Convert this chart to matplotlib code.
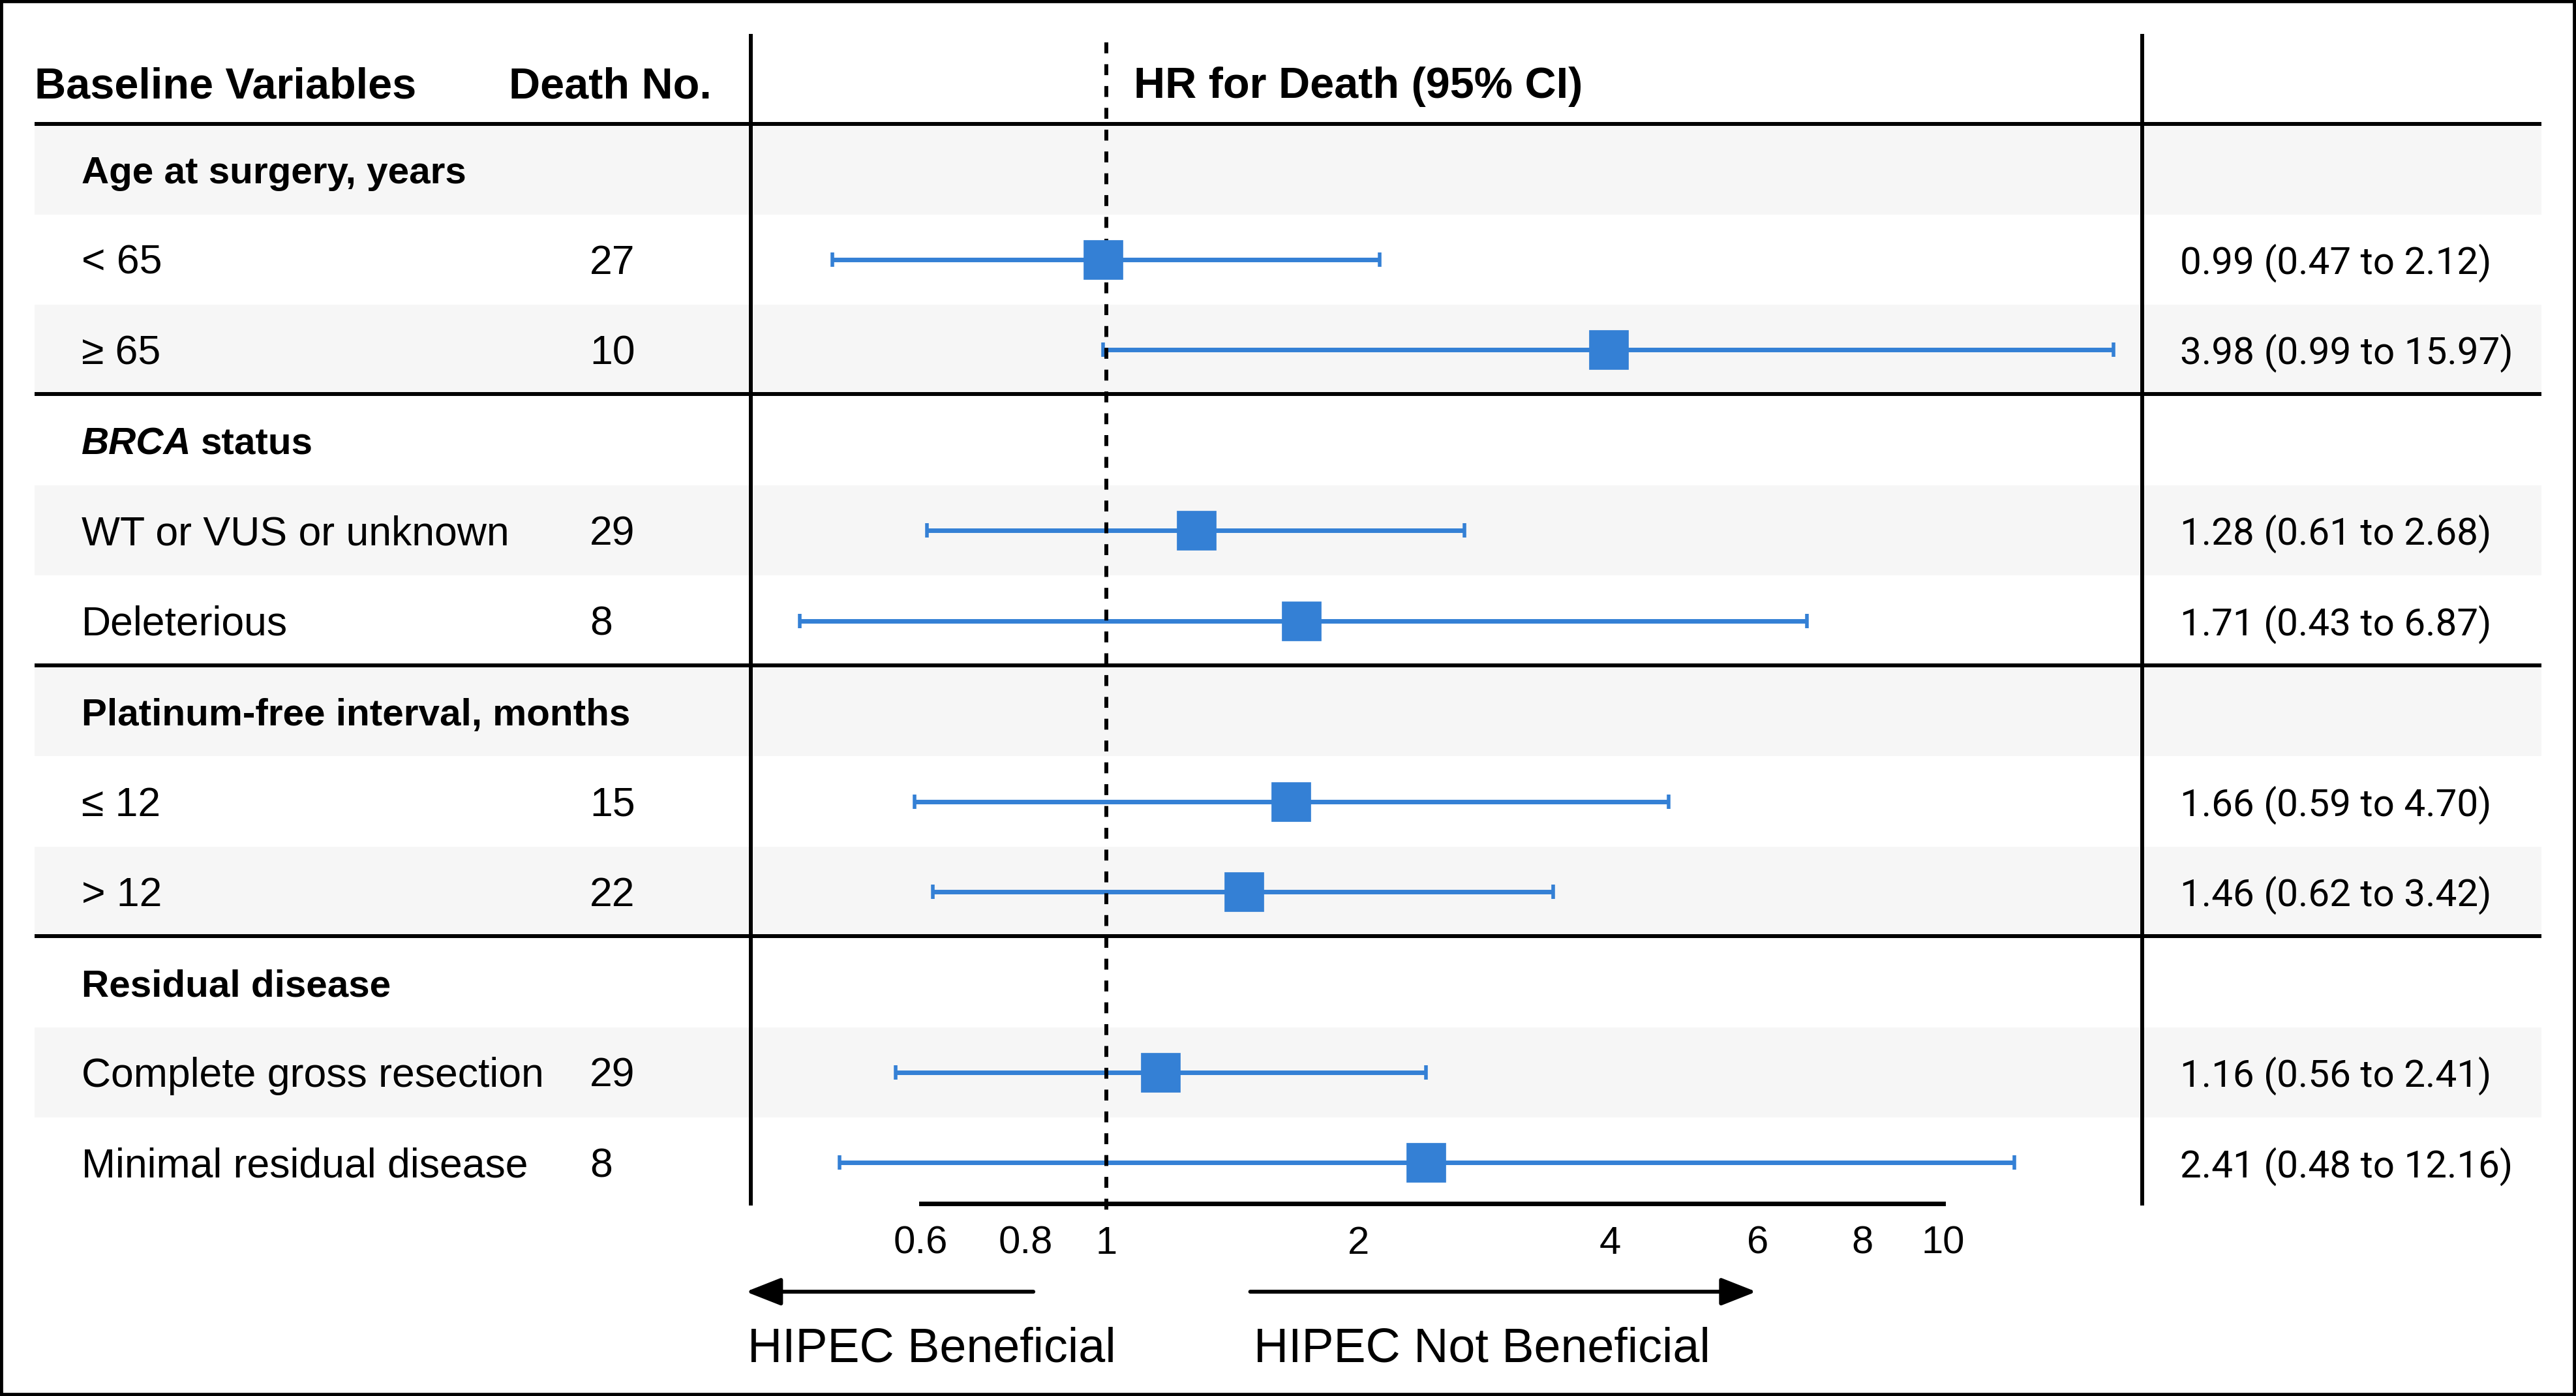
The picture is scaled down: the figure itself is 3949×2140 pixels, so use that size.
import numpy as np
import matplotlib
matplotlib.use('Agg')
import matplotlib.pyplot as plt
from matplotlib.patches import Rectangle
from matplotlib.ticker import NullLocator, FixedLocator, FixedFormatter

plt.rcParams['font.family'] = ['Liberation Sans', 'DejaVu Sans']

# data
group_names = ['Age at surgery, years', 'BRCA', 'Platinum-free interval, months',
               'Residual disease']
subgroups = ['< 65', '\u2265 65', 'WT or VUS or unknown', 'Deleterious',
             '\u2264 12', '> 12', 'Complete gross resection',
             'Minimal residual disease']
deaths = [27, 10, 29, 8, 15, 22, 29, 8]
hr = [0.99, 3.98, 1.28, 1.71, 1.66, 1.46, 1.16, 2.41]
ci_low = [0.47, 0.99, 0.61, 0.43, 0.59, 0.62, 0.56, 0.48]
ci_high = [2.12, 15.97, 2.68, 6.87, 4.70, 3.42, 2.41, 12.16]
xticks = [0.6, 0.8, 1, 2, 4, 6, 8, 10]
xtick_labels = ['0.6', '0.8', '1', '2', '4', '6', '8', '10']

blue = '#3480d5'
shade = '#f6f6f6'

# layout, in units of a 1568 x 850 canvas
W, H = 1568.0, 850.0
row_top = 75.5
row_h = 55.0
n_rows = 12
row_y = row_top + row_h / 2 + row_h * np.arange(n_rows)
left_vline, right_vline = 457.0, 1304.0
x_one, decade = 673.5, 509.4      # where HR = 1 sits and width of one decade

fig = plt.figure(figsize=(39.49, 21.40), dpi=100)
bg = fig.add_axes([0, 0, 1, 1])
bg.set_xlim(0, W)
bg.set_ylim(H, 0)
bg.axis('off')

# alternating row shading
shaded = np.arange(0, n_rows, 2)
bg.barh(row_y[shaded], width=1547 - 21, left=21, height=row_h, color=shade,
        zorder=0)

# table rules
bg.hlines([75.5, 240, 405, 570], 21, 1547, color='black', lw=4.3, zorder=2)
bg.vlines([left_vline, right_vline], 20.6, 734, color='black', lw=4.3, zorder=2)

# header
bg.text(21, 59.6, 'Baseline Variables', fontsize=48, fontweight='bold',
        ha='left', va='baseline')
bg.text(433, 59.6, 'Death No.', fontsize=48, fontweight='bold',
        ha='right', va='baseline')
bg.text(690, 59.6, 'HR for Death (95% CI)', fontsize=48, fontweight='bold',
        ha='left', va='baseline')

off = 8.7
for g, name in enumerate(group_names):
    r = 3 * g
    if name == 'BRCA':
        t1 = bg.text(49.5, row_y[r] + off, 'BRCA', fontsize=42,
                     fontweight='bold', fontstyle='italic', ha='left',
                     va='baseline')
        bg.annotate('status', xy=(1, 0), xycoords=t1, xytext=(11, 0),
                    textcoords='offset points', fontsize=42,
                    fontweight='bold', ha='left', va='bottom')
    else:
        bg.text(49.5, row_y[r] + off, name, fontsize=42, fontweight='bold',
                ha='left', va='baseline')

for k in range(len(subgroups)):
    r = 3 * (k // 2) + 1 + k % 2
    bg.text(49.5, row_y[r] + off, subgroups[k], fontsize=45,
            ha='left', va='baseline')
    bg.text(359, row_y[r] + off, str(deaths[k]), fontsize=45,
            ha='left', va='baseline')
    bg.text(1327, row_y[r] + off,
            '{:.2f} ({:.2f} to {:.2f})'.format(hr[k], ci_low[k], ci_high[k]),
            fontsize=42, family=['Roboto', 'Liberation Sans'],
            ha='left', va='baseline')

# forest panel
ax = fig.add_axes([left_vline / W, 1 - 750 / H, (right_vline - left_vline) / W,
                   730 / H])
ax.set_facecolor('none')
ax.set_xscale('log')
ax.set_xlim(10 ** ((left_vline - x_one) / decade),
            10 ** ((right_vline - x_one) / decade))
ax.set_ylim(750, 20)

rows_sub = np.array([3 * (k // 2) + 1 + k % 2 for k in range(len(hr))])
ys = row_y[rows_sub]
hr_a = np.array(hr)
err = [hr_a - np.array(ci_low), np.array(ci_high) - hr_a]
ax.errorbar(hr_a, ys, xerr=err, fmt='none', ecolor=blue, elinewidth=5,
            capsize=8, capthick=4, zorder=2)
ax.vlines(1, 26, 740, color='black', lw=4.3, linestyles=(0, (2.8, 2.8)),
          zorder=3)
ax.plot(hr_a, ys, linestyle='none', marker='s', markersize=43, color=blue,
        markeredgecolor=blue, markeredgewidth=0.5, zorder=4)

for s in ['top', 'left', 'right']:
    ax.spines[s].set_visible(False)
ax.spines['bottom'].set_position(('data', 733))
ax.spines['bottom'].set_bounds(0.6, 10)
ax.spines['bottom'].set_linewidth(5)
ax.xaxis.set_major_locator(FixedLocator(xticks))
ax.xaxis.set_major_formatter(FixedFormatter(xtick_labels))
ax.xaxis.set_minor_locator(NullLocator())
ax.tick_params(axis='x', length=0, pad=24, labelsize=43)
ax.set_yticks([])

# direction arrows and captions
bg.annotate('', xy=(454, 786.5), xytext=(629, 786.5),
            arrowprops=dict(arrowstyle='-|>,head_length=0.33,head_width=0.13',
                            lw=4.3, color='black', shrinkA=0, shrinkB=0,
                            mutation_scale=100))
bg.annotate('', xy=(1069, 786.5), xytext=(761, 786.5),
            arrowprops=dict(arrowstyle='-|>,head_length=0.33,head_width=0.13',
                            lw=4.3, color='black', shrinkA=0, shrinkB=0,
                            mutation_scale=100))
bg.text(455, 829, 'HIPEC Beneficial', fontsize=53, ha='left', va='baseline')
bg.text(763, 829, 'HIPEC Not Beneficial', fontsize=53, ha='left',
        va='baseline')

# outer frame
fig.patches.append(Rectangle((0, 0), 1, 1, transform=fig.transFigure,
                             fill=False, edgecolor='black', lw=7))

fig.savefig('out.png', dpi=100)
